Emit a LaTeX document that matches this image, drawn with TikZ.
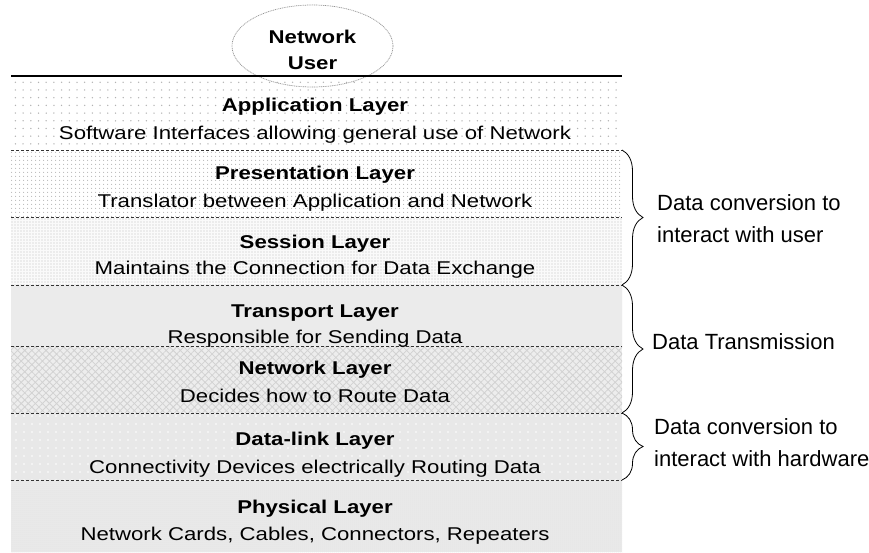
\documentclass[tikz,border=0pt]{standalone}
\usepackage{fontspec}
\setmainfont{Liberation Sans}
\newfontfamily\layerfont{Liberation Sans}[FakeStretch=1.2]
\usetikzlibrary{patterns.meta,decorations.pathreplacing,shapes.geometric}
\begin{document}
\begin{tikzpicture}[x=1pt,y=-1pt,
  title/.style={font=\layerfont\bfseries\fontsize{18.5}{22}\selectfont, anchor=base, inner sep=0pt},
  sub/.style={font=\layerfont\fontsize{18.5}{22}\selectfont, anchor=base, inner sep=0pt},
  side/.style={font=\fontsize{22}{26}\selectfont, anchor=base west, inner sep=0pt},
  sepline/.style={draw=black!80, line width=0.9pt, dash pattern=on 3pt off 2pt},
  bracestyle/.style={draw, line width=0.8pt, decorate, decoration={brace, amplitude=21pt}}
]
\useasboundingbox (0,0) rectangle (869,552);
% bands
\fill[white] (11,76) rectangle (622,150);
\fill[pattern={Dots[radius=0.75pt,distance=7.7pt]}, pattern color=gray!60] (11,76) rectangle (622,150);
\fill[white] (11,150) rectangle (622,217);
\fill[pattern={Dots[radius=0.65pt,distance=4pt]}, pattern color=gray!55] (11,150) rectangle (622,217);
\fill[gray!4] (11,217) rectangle (622,285);
\fill[pattern={Dots[radius=0.6pt,distance=3pt]}, pattern color=gray!50] (11,217) rectangle (622,285);
\fill[gray!8] (11,285) rectangle (622,346);
\fill[pattern={Dots[radius=0.55pt,distance=2pt]}, pattern color=gray!40] (11,285) rectangle (622,346);
\fill[gray!14] (11,346) rectangle (622,413);
\fill[pattern={Hatch[distance=5pt,angle=45,line width=0.8pt]}, pattern color=gray!35] (11,346) rectangle (622,413);
\fill[gray!18] (11,413) rectangle (622,480);
\fill[pattern={Dots[radius=0.9pt,distance=8pt]}, pattern color=white] (11,413) rectangle (622,480);
\fill[gray!16] (11,480) rectangle (622,552);
\fill[pattern={Dots[radius=0.5pt,distance=2pt]}, pattern color=gray!28] (11,480) rectangle (622,552);
% user ellipse
\node[draw=gray!85, dash pattern=on 1pt off 0.8pt, line width=0.7pt, ellipse, minimum width=161pt, minimum height=82pt] (userell) at (312.5,46) {};
\node[font=\layerfont\bfseries\fontsize{18.5}{26}\selectfont, align=center, inner sep=0pt] (user) at (312.5,50) {Network\\User};
% lines
\draw[line width=1.1pt] (11,76) -- (622,76);
\foreach \yy in {150,217,285,346,413,480} \draw[sepline] (11,\yy) -- (622,\yy);
% layer texts
\node[title] (appT) at (315,111) {Application Layer};
\node[sub] (appS) at (315,139) {Software Interfaces allowing general use of Network};
\node[title] (preT) at (315,179.5) {Presentation Layer};
\node[sub] (preS) at (315,207.5) {Translator between Application and Network};
\node[title] (sesT) at (315,248.5) {Session Layer};
\node[sub] (sesS) at (315,274.5) {Maintains the Connection for Data Exchange};
\node[title] (traT) at (315,317.5) {Transport Layer};
\node[sub] (traS) at (315,343.5) {Responsible for Sending Data};
\node[title] (netT) at (315,374.5) {Network Layer};
\node[sub] (netS) at (315,402.5) {Decides how to Route Data};
\node[title] (dlT) at (315,445.5) {Data-link Layer};
\node[sub] (dlS) at (315,473.5) {Connectivity Devices electrically Routing Data};
\node[title] (phT) at (315,513.5) {Physical Layer};
\node[sub] (phS) at (315,540.5) {Network Cards, Cables, Connectors, Repeaters};
% braces
\coordinate (b1) at (622,150);
\coordinate (b2) at (622,285);
\coordinate (b3) at (622,413);
\coordinate (b4) at (622,480);
\draw[bracestyle] (b1) -- (b2);
\draw[bracestyle] (b2) -- (b3);
\draw[bracestyle] (b3) -- (b4);
% side labels
\node[side] (l1a) at (657,210) {Data conversion to};
\node[side] (l1b) at (657,242) {interact with user};
\node[side] (l2) at (652,349) {Data Transmission};
\node[side] (l3a) at (654,434) {Data conversion to};
\node[side] (l3b) at (654,466) {interact with hardware};
\end{tikzpicture}
\end{document}
